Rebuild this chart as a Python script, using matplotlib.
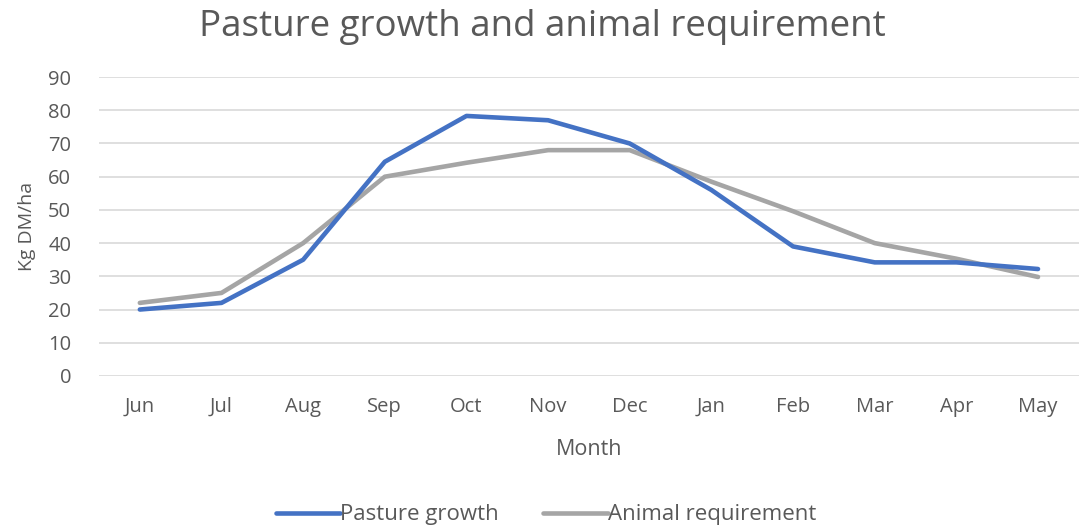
import matplotlib
matplotlib.use('Agg')

import matplotlib.pyplot as plt

months = ['Jun', 'Jul', 'Aug', 'Sep', 'Oct', 'Nov',
          'Dec', 'Jan', 'Feb', 'Mar', 'Apr', 'May']
pasture_growth = [20, 22, 35, 64.5, 78.3, 77, 70, 56, 39, 34.2, 34.2, 32.2]
animal_requirement = [22, 25, 40, 60, 64.2, 68, 68, 58.5, 49.6, 40, 35.3, 29.8]
yticks = list(range(0, 100, 10))

TEXT_GREY = '#595959'
GRID_GREY = '#d9d9d9'

plt.rcParams['font.family'] = ['Open Sans', 'DejaVu Sans']

fig = plt.figure(figsize=(10.81, 5.28), dpi=100)
ax = fig.add_axes([0.0916, 0.288, 0.9064, 0.566])

x = list(range(len(months)))
ax.plot(x, pasture_growth, color='#4472C4', linewidth=3.3,
        solid_capstyle='round', solid_joinstyle='round',
        label='Pasture growth', zorder=3)
ax.plot(x, animal_requirement, color='#A5A5A5', linewidth=3.3,
        solid_capstyle='round', solid_joinstyle='round',
        label='Animal requirement', zorder=2)

ax.set_xlim(-0.5, len(months) - 0.5)
ax.set_ylim(0, 90)
ax.set_xticks(x)
ax.set_xticklabels(months)
ax.set_yticks(yticks)

ax.grid(True, axis='y', color=GRID_GREY, linewidth=1.2)
ax.set_axisbelow(True)
for side in ['top', 'right', 'left', 'bottom']:
    ax.spines[side].set_visible(False)
ax.tick_params(axis='both', length=0, labelsize=14.5, colors=TEXT_GREY)
ax.tick_params(axis='x', pad=15)
ax.tick_params(axis='y', pad=20)

ax.set_xlabel('Month', fontsize=15.5, color=TEXT_GREY, labelpad=16)
ax.set_ylabel('Kg DM/ha', fontsize=14, color=TEXT_GREY, labelpad=9)
fig.suptitle('Pasture growth and animal requirement', fontsize=26.5,
             color=TEXT_GREY, x=0.502, y=0.983)

ax.legend(loc='center', bbox_to_anchor=(0.456, -0.465), ncol=2, frameon=False,
          fontsize=16, labelcolor=TEXT_GREY, handlelength=2.9,
          handletextpad=0.0, columnspacing=2.0)

fig.savefig('out.png', dpi=100)
